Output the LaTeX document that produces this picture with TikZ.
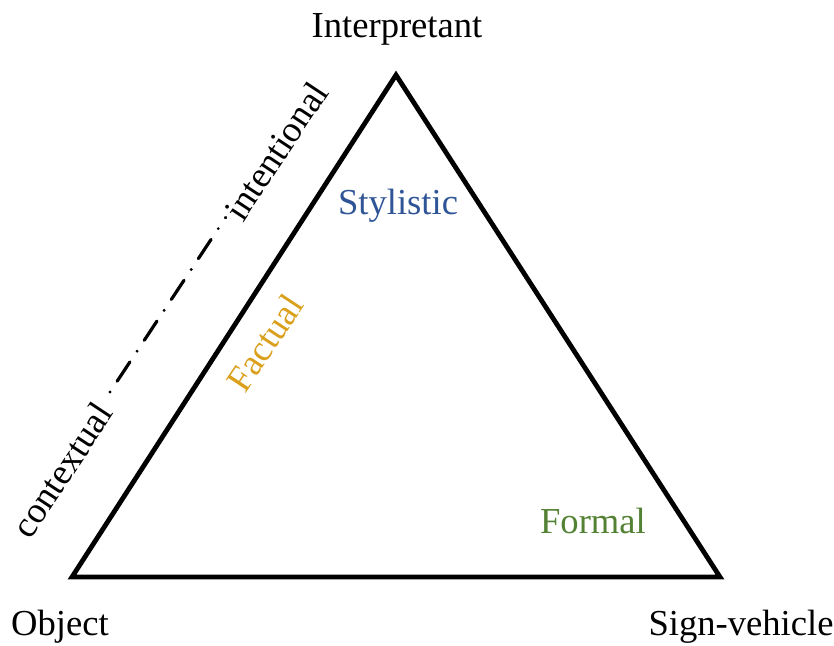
\documentclass[tikz,border=0pt]{standalone}
\usepackage{fontspec}
\setmainfont{Liberation Serif}
\definecolor{stylblue}{RGB}{47,85,151}
\definecolor{factgold}{RGB}{218,160,28}
\definecolor{formgreen}{RGB}{84,130,53}
\tikzset{
  lbl/.style={font=\fontsize{18.3pt}{21pt}\selectfont, inner sep=0pt},
  tri/.style={line width=2.4pt, line join=miter},
  dashdot/.style={line width=1.6pt, line cap=round, dash pattern=on 0pt off 6.5pt on 11.5pt off 6.5pt}
}
\begin{document}
\begin{tikzpicture}[x=0.5pt,y=-0.5pt]
\useasboundingbox (0,0) rectangle (834,645);
\coordinate (I) at (396,75);
\coordinate (O) at (72,577);
\coordinate (S) at (720,577);
\draw[tri] (O) -- (I) -- (S) -- cycle;
\node[lbl] (interp) at (397,29) {Interpretant};
\node[lbl] (obj) at (60,627) {Object};
\node[lbl] (sign) at (741,627) {Sign-vehicle};
\node[lbl, text=stylblue] (styl) at (398,206) {Stylistic};
\node[lbl, text=formgreen] (form) at (593,521) {Formal};
\node[lbl, text=factgold, rotate=56.5] (fact) at (265,343) {Factual};
\node[lbl, rotate=56.5] (ctx) at (62,470) {contextual};
\node[lbl, rotate=56.5] (intent) at (276,151) {intentional};
\coordinate (dA) at (110,392);
\coordinate (dB) at (225.6,217.5);
\draw[dashdot] (dA) -- (dB);
\end{tikzpicture}
\end{document}
